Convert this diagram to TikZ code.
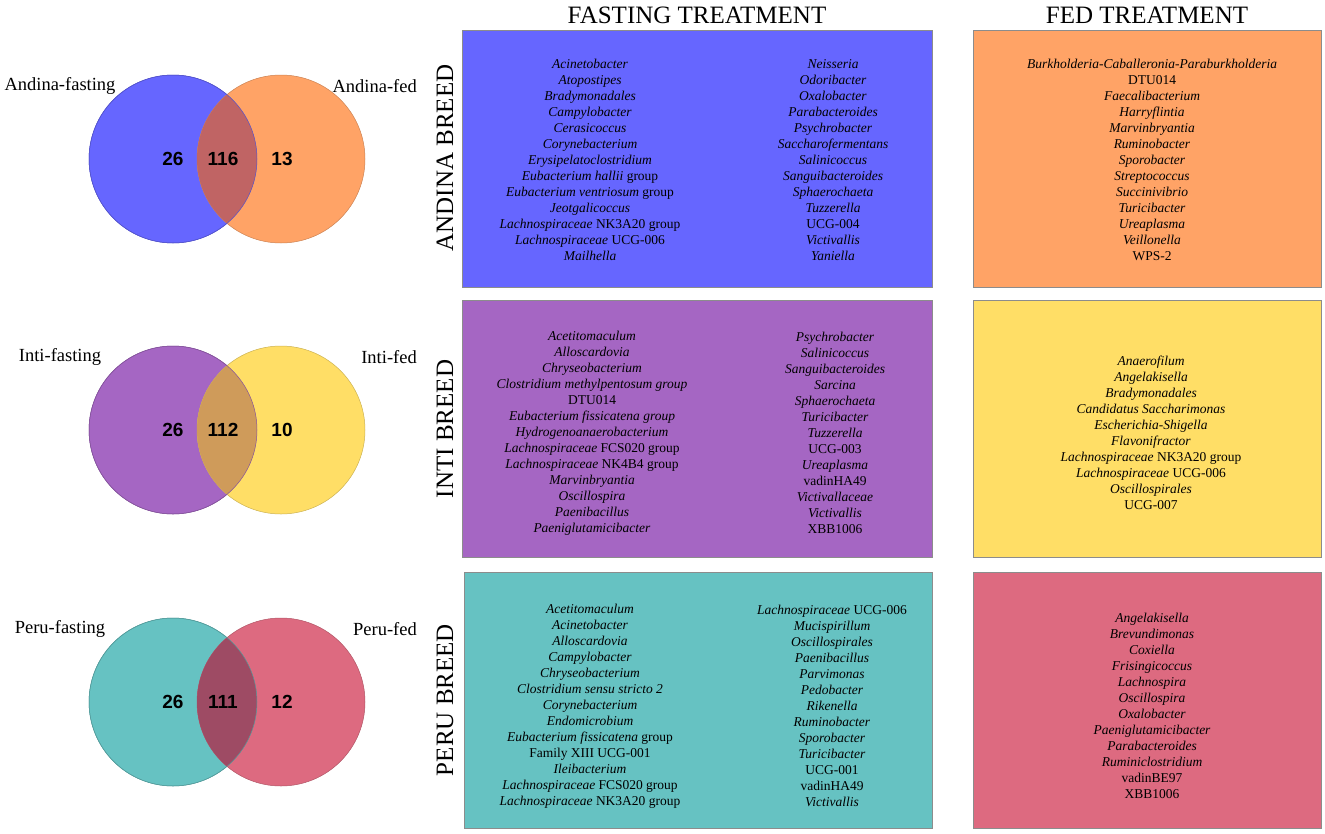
\documentclass[tikz,border=0pt]{standalone}
\usepackage{fontspec}
\setmainfont{Liberation Serif}
\newfontfamily\vennnum{Liberation Sans}
\definecolor{cblue}{RGB}{102,102,255}
\definecolor{corange}{RGB}{255,163,102}
\definecolor{cbo}{RGB}{192,100,100}
\definecolor{cpurple}{RGB}{165,102,195}
\definecolor{cyellow}{RGB}{255,222,102}
\definecolor{cpy}{RGB}{207,155,90}
\definecolor{cteal}{RGB}{102,194,194}
\definecolor{cpink}{RGB}{221,106,128}
\definecolor{ctp}{RGB}{158,75,100}
\begin{document}
\begin{tikzpicture}[x=1pt,y=-1pt,
  panel/.style={draw=black!45, line width=0.7pt, inner sep=0, minimum height=257pt},
  wide/.style={panel, minimum width=470pt},
  narrow/.style={panel, minimum width=348pt},
  genus/.style={font=\fontsize{13.5}{16}\selectfont, align=center, inner sep=0},
  head/.style={font=\fontsize{25}{30}\selectfont, inner sep=0},
  breed/.style={font=\fontsize{25}{30}\selectfont, inner sep=0, rotate=90},
  vlabel/.style={font=\fontsize{18.5}{22}\selectfont, inner sep=0},
  vnum/.style={font=\vennnum\bfseries\fontsize{19}{22}\selectfont, inner sep=0},
  vcirc/.style={circle, minimum size=168pt, inner sep=0, line width=0.5pt}]
\useasboundingbox (0,0) rectangle (1325,833);

% headers
\node[head] (hfast) at (697,15) {FASTING TREATMENT};
\node[head] (hfed) at (1147,15) {FED TREATMENT};

% breed labels
\node[breed] (bA) at (445,158) {ANDINA BREED};
\node[breed] (bI) at (445,429) {INTI BREED};
\node[breed] (bP) at (445,700) {PERU BREED};

% panels
\node[wide, fill=cblue] (pAF) at (697,158.5) {};
\node[narrow, fill=corange] (pAD) at (1147,158.5) {};
\node[wide, fill=cpurple] (pIF) at (697,428.5) {};
\node[narrow, fill=cyellow] (pID) at (1147,428.5) {};
\node[panel, minimum width=468pt, minimum height=256pt, fill=cteal] (pPF) at (698,700) {};
\node[narrow, minimum height=256pt, fill=cpink] (pPD) at (1147,700) {};

% Andina fasting
\node[genus] (tAF1) at (590,160) {\textit{Acinetobacter}\\ \textit{Atopostipes}\\ \textit{Bradymonadales}\\ \textit{Campylobacter}\\ \textit{Cerasicoccus}\\ \textit{Corynebacterium}\\ \textit{Erysipelatoclostridium}\\ \textit{Eubacterium hallii} group\\ \textit{Eubacterium ventriosum} group\\ \textit{Jeotgalicoccus}\\ \textit{Lachnospiraceae} NK3A20 group\\ \textit{Lachnospiraceae} UCG-006\\ \textit{Mailhella}};
\node[genus] (tAF2) at (833,160) {\textit{Neisseria}\\ \textit{Odoribacter}\\ \textit{Oxalobacter}\\ \textit{Parabacteroides}\\ \textit{Psychrobacter}\\ \textit{Saccharofermentans}\\ \textit{Salinicoccus}\\ \textit{Sanguibacteroides}\\ \textit{Sphaerochaeta}\\ \textit{Tuzzerella}\\ UCG-004\\ \textit{Victivallis}\\ \textit{Yaniella}};
% Andina fed
\node[genus] (tAD) at (1152,159.5) {\textit{Burkholderia-Caballeronia-Paraburkholderia}\\ DTU014\\ \textit{Faecalibacterium}\\ \textit{Harryflintia}\\ \textit{Marvinbryantia}\\ \textit{Ruminobacter}\\ \textit{Sporobacter}\\ \textit{Streptococcus}\\ \textit{Succinivibrio}\\ \textit{Turicibacter}\\ \textit{Ureaplasma}\\ \textit{Veillonella}\\ WPS-2};
% Inti fasting
\node[genus] (tIF1) at (592,433) {\textit{Acetitomaculum}\\ \textit{Alloscardovia}\\ \textit{Chryseobacterium}\\ \textit{Clostridium methylpentosum group}\\ DTU014\\ \textit{Eubacterium fissicatena group}\\ \textit{Hydrogenoanaerobacterium}\\ \textit{Lachnospiraceae} FCS020 group\\ \textit{Lachnospiraceae} NK4B4 group\\ \textit{Marvinbryantia}\\ \textit{Oscillospira}\\ \textit{Paenibacillus}\\ \textit{Paeniglutamicibacter}};
\node[genus] (tIF2) at (835,433) {\textit{Psychrobacter}\\ \textit{Salinicoccus}\\ \textit{Sanguibacteroides}\\ \textit{Sarcina}\\ \textit{Sphaerochaeta}\\ \textit{Turicibacter}\\ \textit{Tuzzerella}\\ UCG-003\\ \textit{Ureaplasma}\\ vadinHA49\\ \textit{Victivallaceae}\\ \textit{Victivallis}\\ XBB1006};
% Inti fed
\node[genus] (tID) at (1151,432.5) {\textit{Anaerofilum}\\ \textit{Angelakisella}\\ \textit{Bradymonadales}\\ \textit{Candidatus Saccharimonas}\\ \textit{Escherichia-Shigella}\\ \textit{Flavonifractor}\\ \textit{Lachnospiraceae} NK3A20 group\\ \textit{Lachnospiraceae} UCG-006\\ \textit{Oscillospirales}\\ UCG-007};
% Peru fasting
\node[genus] (tPF1) at (590,706) {\textit{Acetitomaculum}\\ \textit{Acinetobacter}\\ \textit{Alloscardovia}\\ \textit{Campylobacter}\\ \textit{Chryseobacterium}\\ \textit{Clostridium sensu stricto 2}\\ \textit{Corynebacterium}\\ \textit{Endomicrobium}\\ \textit{Eubacterium fissicatena} group\\ Family XIII UCG-001\\ \textit{Ileibacterium}\\ \textit{Lachnospiraceae} FCS020 group\\ \textit{Lachnospiraceae} NK3A20 group};
\node[genus] (tPF2) at (832,706) {\textit{Lachnospiraceae} UCG-006\\ \textit{Mucispirillum}\\ \textit{Oscillospirales}\\ \textit{Paenibacillus}\\ \textit{Parvimonas}\\ \textit{Pedobacter}\\ \textit{Rikenella}\\ \textit{Ruminobacter}\\ \textit{Sporobacter}\\ \textit{Turicibacter}\\ UCG-001\\ vadinHA49\\ \textit{Victivallis}};
% Peru fed
\node[genus] (tPD) at (1152,706) {\textit{Angelakisella}\\ \textit{Brevundimonas}\\ \textit{Coxiella}\\ \textit{Frisingicoccus}\\ \textit{Lachnospira}\\ \textit{Oscillospira}\\ \textit{Oxalobacter}\\ \textit{Paeniglutamicibacter}\\ \textit{Parabacteroides}\\ \textit{Ruminiclostridium}\\ vadinBE97\\ XBB1006};

% Venn diagrams
\foreach \row/\yc/\ca/\cb/\cab/\la/\lb/\na/\nab/\nb in {
  A/159/cblue/corange/cbo/Andina-fasting/Andina-fed/26/116/13,
  I/430/cpurple/cyellow/cpy/Inti-fasting/Inti-fed/26/112/10,
  P/702/cteal/cpink/ctp/Peru-fasting/Peru-fed/26/111/12} {
  \node[vcirc, fill=\ca, draw=\ca!80!black] (v\row a) at (173,\yc) {};
  \node[vcirc, fill=\cb, draw=\cb!80!black] (v\row b) at (281,\yc) {};
  \begin{scope}
    \clip (173,\yc) circle (84pt);
    \fill[\cab] (281,\yc) circle (84pt);
  \end{scope}
  \draw[line width=0.5pt, \ca!80!black] (v\row a.center) circle (84pt);
  \node[vlabel] (l\row a) at (60,\yc-73) {\la};
  \node[vlabel, anchor=east] (l\row b) at (417,\yc-73) {\lb};
  \node[vnum] (n\row a) at (173,\yc) {\na};
  \node[vnum] (n\row ab) at (223,\yc) {\nab};
  \node[vnum] (n\row b) at (282,\yc) {\nb};
}
\end{tikzpicture}
\end{document}
